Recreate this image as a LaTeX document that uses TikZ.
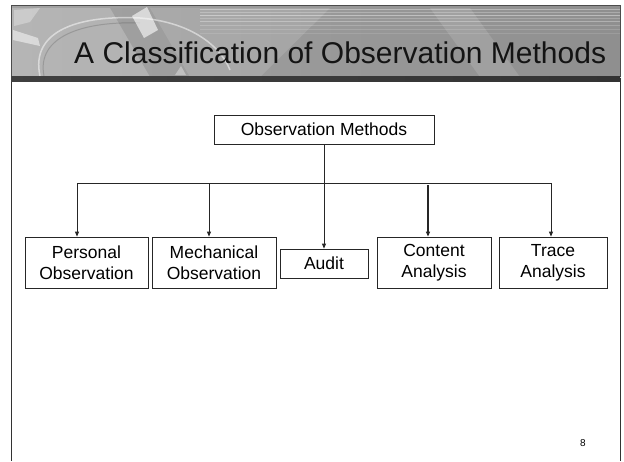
\documentclass[tikz,border=0pt]{standalone}
\usepackage{fontspec}
\setmainfont{Liberation Sans}
\usetikzlibrary{arrows.meta}
\begin{document}
\begin{tikzpicture}[x=1pt,y=-1pt,
  box/.style={draw=black!85, line width=0.8pt, inner sep=0pt,
    font=\fontsize{17.5}{21}\selectfont, align=center},
  link/.style={draw=black!85, line width=0.8pt},
  arr/.style={link, -{Triangle[length=5pt,width=4pt]}}]
\useasboundingbox (0,0) rectangle (624,461);
\fill[white] (0,0) rectangle (624,461);

% ---- slide frame ----
\draw[black!80, line width=0.9pt] (11,78) -- (11,461);
\draw[black!80, line width=0.9pt] (620,78) -- (620,461);

% ---- title banner ----
\fill[left color=black!36, right color=black!44] (11,5) rectangle (620,77);
% soft lighter patch on the left
\fill[white, opacity=0.2] (11,8) -- (110,8) -- (150,77) -- (11,77) -- cycle;
\fill[white, opacity=0.12] (150,8) -- (330,8) -- (260,77) -- (190,77) -- cycle;
% lens-like arc
\draw[white, opacity=0.5, line width=1.5pt] (40,76) .. controls (30,30) and (80,15) .. (140,18) .. controls (190,22) and (220,45) .. (230,70);
\draw[black, opacity=0.15, line width=1pt] (44,76) .. controls (36,36) and (84,21) .. (140,23);
% bright facets
\fill[white, opacity=0.6] (132,16) -- (147,7) -- (158,30) -- (144,38) -- cycle;
\fill[white, opacity=0.5] (13,30) -- (38,38) -- (40,46) -- (13,40) -- cycle;
\fill[white, opacity=0.35] (175,75) -- (181,66) -- (186,75) -- cycle;
\fill[white, opacity=0.3] (14,10) -- (40,8) -- (30,22) -- (14,26) -- cycle;
% horizontal light streaks
\foreach \yy/\op in {9/0.35,12/0.25,15/0.4,18/0.2,21/0.3,25/0.2,29/0.15,33/0.12}{
  \draw[white, opacity=\op, line width=0.8pt] (200,\yy) -- (620,\yy);
}
\fill[white, opacity=0.12] (430,8) -- (470,8) -- (520,77) -- (480,77) -- cycle;
% top edge and lower band
\draw[black!70, line width=0.9pt] (11,5) -- (620,5);
\draw[black!70, line width=0.6pt] (11,5) -- (11,77);
\draw[black!70, line width=0.6pt] (620,5) -- (620,77);
\fill[left color=black!75, middle color=gray!60, right color=black!80] (11,76) rectangle (620,81);

\node[anchor=base west, font=\fontsize{30}{36}\selectfont, text=black!92, inner sep=0pt]
  (title) at (74,63) {A Classification of Observation Methods};

% ---- hierarchy ----
\node[box, minimum width=220pt, minimum height=29pt] (top) at (324,129.5) {Observation Methods};

\node[box, minimum width=123pt, minimum height=51pt] (pers) at (86.5,262.5) {Personal\\Observation};
\node[box, minimum width=124pt, minimum height=51pt] (mech) at (214,262.5) {Mechanical\\Observation};
\node[box, minimum width=88pt, minimum height=29pt] (audit) at (324,263.5) {Audit};
\node[box, minimum width=114pt, minimum height=51pt] (cont) at (434,262.5) {Content\\Analysis};
\node[box, minimum width=108pt, minimum height=51pt] (trace) at (553,262.5) {Trace\\Analysis};

\coordinate (bl) at (77,183);
\coordinate (br) at (551,183);
\coordinate (bm) at (209,183);
\coordinate (bc) at (428,185);

\draw[link] (bl) -- (br);
\draw[arr] (top.south) -- (audit.north);
\draw[arr] (bl) -- (bl |- pers.north);
\draw[arr] (bm) -- (bm |- mech.north);
\draw[arr, line width=1.3pt] (bc) -- (bc |- cont.north);
\draw[arr] (br) -- (br |- trace.north);

% ---- page number ----
\node[font=\fontsize{10}{12}\selectfont, inner sep=0pt] (pnum) at (583,443) {8};
\end{tikzpicture}
\end{document}
